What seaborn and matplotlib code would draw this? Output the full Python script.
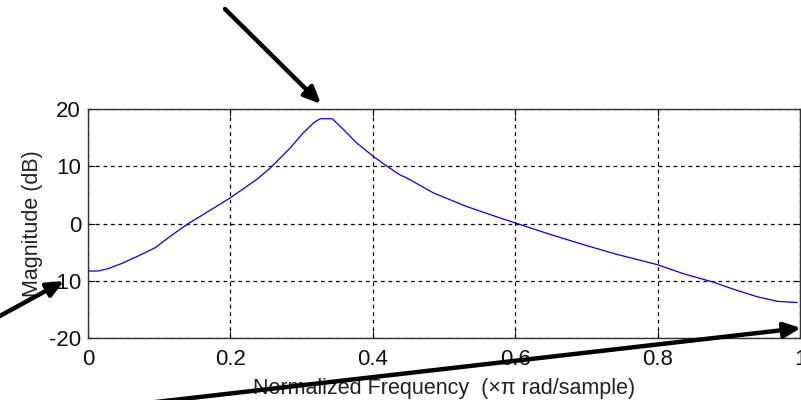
import numpy as np
import pandas as pd
import seaborn as sns
import matplotlib.pyplot as plt

# Magnitude response
freq = [0.0, 0.014, 0.028, 0.047, 0.070, 0.094, 0.117, 0.141, 0.157, 0.200,
        0.237, 0.256, 0.284, 0.302, 0.317, 0.326, 0.343, 0.359, 0.377, 0.401,
        0.420, 0.438, 0.447, 0.485, 0.531, 0.578, 0.600, 0.649, 0.696, 0.743,
        0.800, 0.837, 0.877, 0.907, 0.940, 0.968, 0.996]
mag_db = [-8.3, -8.3, -7.9, -7.0, -5.7, -4.25, -2.1, 0.0, 1.2, 4.5,
          7.7, 9.7, 13.2, 15.8, 17.6, 18.3, 18.3, 16.4, 14.1, 11.7,
          10.0, 8.5, 8.0, 5.35, 3.0, 1.0, 0.1, -1.9, -3.7, -5.4,
          -7.2, -8.8, -10.2, -11.5, -12.8, -13.6, -13.8]

x_ticks = [0, 0.2, 0.4, 0.6, 0.8, 1]
x_ticklabels = ["0", "0.2", "0.4", "0.6", "0.8", "1"]
y_ticks = [-20, -10, 0, 10, 20]

df = pd.DataFrame({"freq": freq, "mag": mag_db})

sns.set_style("white")
plt.rcParams["font.family"] = ["Liberation Sans", "DejaVu Sans"]
plt.rcParams["axes.unicode_minus"] = False

fig = plt.figure(figsize=(8.01, 4.0), dpi=100)
ax = fig.add_axes([88 / 801, 62 / 400, 712 / 801, 229 / 400])

sns.lineplot(data=df, x="freq", y="mag", color="blue", linewidth=0.9, ax=ax)

ax.set_xlim(0, 1)
ax.set_ylim(-20, 20)
ax.set_xticks(x_ticks)
ax.set_xticklabels(x_ticklabels)
ax.set_yticks(y_ticks)
ax.tick_params(direction="in", length=5, labelsize=16, colors="#111111",
               top=True, right=True, bottom=True, left=True)
ax.tick_params(axis="x", pad=8)
ax.tick_params(axis="y", pad=5)
ax.grid(True, color="black", linestyle=(0, (3, 3)), linewidth=0.9)
for s in ax.spines.values():
    s.set_color("#333333")
    s.set_linewidth(1.0)

ax.set_xlabel("Normalized Frequency  (\u00d7\u03c0 rad/sample)", fontsize=15.5,
              labelpad=6, color="#222222")
ax.set_ylabel("Magnitude (dB)", fontsize=15.5, labelpad=4, color="#222222")

# black arrows pointing at the plot (figure pixel coordinates)
arrows = [((225, 391), (321, 296)),
          ((-2, 83), (64, 119)),
          ((130, -5), (801, 72))]
for start, tip in arrows:
    fig.add_artist(plt.Annotation(
        "", xy=tip, xytext=start, xycoords="figure pixels",
        textcoords="figure pixels",
        arrowprops=dict(arrowstyle="-|>,head_length=1.0,head_width=0.45",
                        color="black", lw=3.2, shrinkA=0, shrinkB=0)))

fig.savefig("out.png", dpi=100)
